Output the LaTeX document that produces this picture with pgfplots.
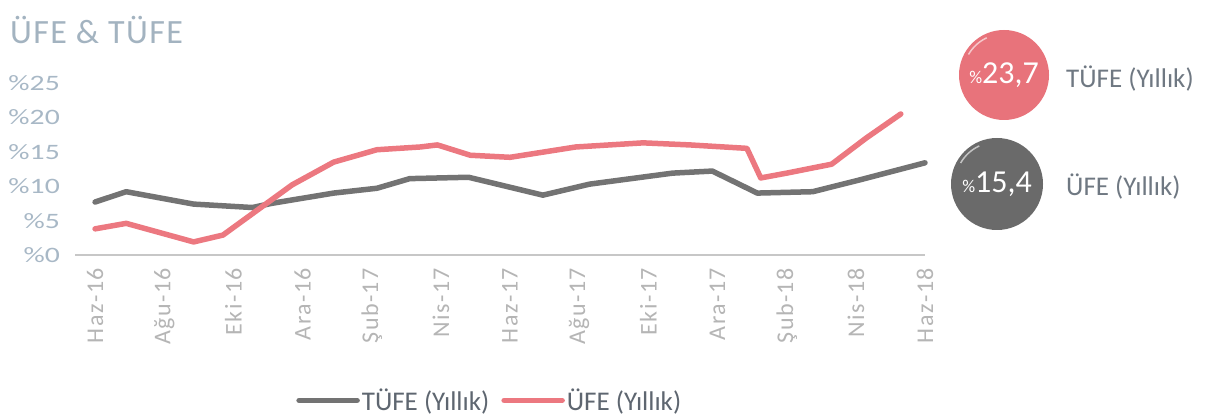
\documentclass[border=0pt]{standalone}
\usepackage{fontspec}
\setmainfont{Carlito}
\newfontfamily\yfont[FakeStretch=1.35]{Carlito}
\usepackage{pgfplots}
\pgfplotsset{compat=1.18}
\definecolor{pinkline}{HTML}{EC7880}
\definecolor{grayline}{HTML}{737373}
\definecolor{titlecol}{HTML}{A3B3C0}
\definecolor{ytickcol}{HTML}{A8B8C6}
\definecolor{xtickcol}{HTML}{B5B5B5}
\definecolor{legcol}{HTML}{5E6670}
\definecolor{circpink}{HTML}{E8737B}
\definecolor{circgray}{HTML}{6A6A6A}
\definecolor{sidecol}{HTML}{6F7882}

\pgfplotstableread{
x y
0 7.7
0.9 9.2
2.85 7.4
4.55 6.9
5.1 7.5
6.9 9.0
8.15 9.7
9.1 11.1
10.8 11.3
12.95 8.7
14.3 10.3
16.7 11.9
17.85 12.2
19.15 9.0
20.75 9.2
22.1 10.9
24 13.4
}\tufe

\pgfplotstableread{
x y
0 3.8
0.9 4.6
2.85 1.9
3.7 2.9
5.7 10.2
6.9 13.5
8.15 15.3
9.4 15.7
9.9 16.0
10.85 14.5
12.0 14.2
13.9 15.7
15.85 16.3
17.2 16.0
18.85 15.5
19.25 11.2
20.0 11.9
21.3 13.2
22.3 17.0
23.3 20.5
}\ufe

\begin{document}
\begin{tikzpicture}
\useasboundingbox (0,0) rectangle (1212pt,-419pt);
\node[anchor=base west, font=\addfontfeatures{LetterSpace=4}\fontsize{34}{38}\selectfont, text=titlecol, inner sep=0pt] at (10pt,-44pt) {ÜFE \& TÜFE};
\begin{axis}[
 scale only axis, width=850pt, height=172pt,
 at={(75pt,-255pt)}, anchor=south west,
 xmin=-0.58, xmax=24, ymin=0, ymax=25,
 axis x line=bottom, axis y line=left,
 x axis line style={-, draw=black!22, line width=1.3pt},
 y axis line style={draw=none},
 major tick length=0pt,
 xtick={0,2,...,24},
 xticklabels={Haz-16,Ağu-16,Eki-16,Ara-16,Şub-17,Nis-17,Haz-17,Ağu-17,Eki-17,Ara-17,Şub-18,Nis-18,Haz-18},
 ytick={0,5,10,15,20,25},
 yticklabels={\%0,\%5,\%10,\%15,\%20,\%25},
 xticklabel style={rotate=90, anchor=east, inner sep=0pt, text=xtickcol, font=\addfontfeatures{LetterSpace=6}\fontsize{24}{26}\selectfont},
 xticklabel shift=13pt,
 yticklabel style={anchor=east, inner sep=0pt, text=ytickcol, font=\yfont\fontsize{22}{24}\selectfont},
 yticklabel shift=15pt,
 clip=false,
 legend columns=2,
 legend style={at={(axis description cs:0.488,-0.845)}, anchor=center, draw=none, fill=none,
   font=\fontsize{27}{30}\selectfont, text=legcol, inner sep=0pt,
   /tikz/every even column/.append style={column sep=10pt}},
 legend image code/.code={\draw[#1] (0pt,0pt) -- (58pt,0pt);},
]
\addplot[color=grayline, line width=5.5pt, line join=round, line cap=round] table[x=x,y=y] {\tufe};
\addlegendentry{TÜFE (Yıllık)}
\addplot[color=pinkline, line width=5.5pt, line join=round, line cap=round] table[x=x,y=y] {\ufe};
\addlegendentry{ÜFE (Yıllık)}
\end{axis}
% side badges
\fill[circpink] (1004pt,-75pt) circle (45pt);
\draw[white, opacity=0.6, line width=1.5pt] (1004pt,-75pt) ++(115:41pt) arc (115:150:41pt);
\node[text=white, inner sep=0pt] at (1004pt,-75pt) {{\fontsize{18}{20}\selectfont\%}{\fontsize{32}{36}\selectfont 23,7}};
\node[anchor=west, text=sidecol, inner sep=0pt, font=\fontsize{27}{30}\selectfont] at (1066pt,-79pt) {TÜFE (Yıllık)};
\fill[circgray] (997pt,-184pt) circle (46pt);
\draw[white, opacity=0.6, line width=1.5pt] (997pt,-184pt) ++(115:42pt) arc (115:150:42pt);
\node[text=white, inner sep=0pt] at (997pt,-184pt) {{\fontsize{18}{20}\selectfont\%}{\fontsize{32}{36}\selectfont 15,4}};
\node[anchor=west, text=sidecol, inner sep=0pt, font=\fontsize{27}{30}\selectfont] at (1066pt,-187pt) {ÜFE (Yıllık)};
\end{tikzpicture}
\end{document}
